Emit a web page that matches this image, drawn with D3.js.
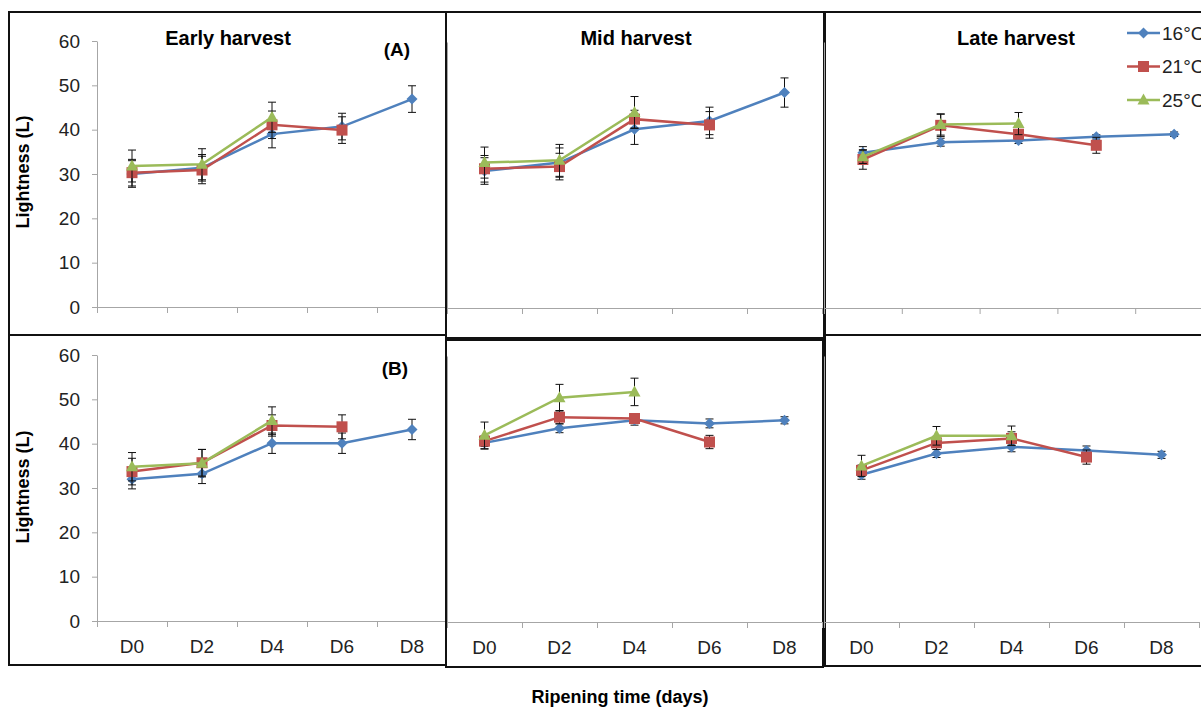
<!DOCTYPE html>
<html>
<head>
<meta charset="utf-8">
<script src="https://cdn.jsdelivr.net/npm/d3@7"></script>
<style>
  body { margin: 0; background: #fff; }
  svg { display: block; font-family: "Liberation Sans", Arial, sans-serif; }
</style>
</head>
<body>
<div id="chart"></div>
<script>
// ripening days on the x axis, storage temperatures as series
const days = ["D0", "D2", "D4", "D6", "D8"];
const temps = ["16°C", "21°C", "25°C"];
const yTicks = [0, 10, 20, 30, 40, 50, 60];

// (A) row
const earlyA_16 = [30.0, 31.4, 39.0, 40.7, 46.9];
const earlyA_21 = [30.3, 30.9, 41.1, 39.9, null];
const earlyA_25 = [31.8, 32.2, 42.8, null, null];
const earlyA_16err = [3.0, 3.0, 3.1, 3.0, 3.0];
const earlyA_21err = [3.0, 3.1, 3.1, 3.0, null];
const earlyA_25err = [3.6, 3.5, 3.4, null, null];

const midA_16 = [30.9, 32.8, 40.3, 42.2, 48.6];
const midA_21 = [31.4, 31.9, 42.6, 41.3, null];
const midA_25 = [32.8, 33.3, 44.1, null, null];
const midA_16err = [3.0, 3.3, 3.4, 3.1, 3.3];
const midA_21err = [3.0, 3.0, 2.0, 3.0, null];
const midA_25err = [3.5, 3.6, 3.6, null, null];

const lateA_16 = [35.0, 37.4, 37.8, 38.6, 39.2];
const lateA_21 = [33.5, 41.2, 39.2, 36.7, null];
const lateA_25 = [34.1, 41.4, 41.6, null, null];
const lateA_16err = [1.4, 0.9, 0.7, 0.5, 0.5];
const lateA_21err = [2.2, 2.5, 1.0, 1.8, null];
const lateA_25err = [1.5, 2.4, 2.5, null, null];

// (B) row
const earlyB_16 = [32.0, 33.2, 40.1, 40.1, 43.2];
const earlyB_21 = [33.7, 35.7, 44.1, 43.8, null];
const earlyB_25 = [34.8, 35.6, 45.2, null, null];
const earlyB_16err = [2.2, 2.2, 2.3, 2.3, 2.3];
const earlyB_21err = [3.0, 3.0, 2.4, 2.7, null];
const earlyB_25err = [3.2, 3.1, 3.1, null, null];

const midB_16 = [40.4, 43.7, 45.5, 44.8, 45.5];
const midB_21 = [40.8, 46.2, 45.9, 40.6, null];
const midB_25 = [42.1, 50.6, 51.9, null, null];
const midB_16err = [1.4, 1.0, 1.1, 1.0, 0.8];
const midB_21err = [1.2, 1.5, 1.0, 1.5, null];
const midB_25err = [3.0, 3.0, 3.1, null, null];

const lateB_16 = [33.2, 38.0, 39.5, 38.7, 37.7];
const lateB_21 = [34.2, 40.4, 41.4, 37.2, null];
const lateB_25 = [35.2, 42.0, 42.0, null, null];
const lateB_16err = [1.0, 0.9, 1.1, 1.0, 0.8];
const lateB_21err = [1.2, 1.5, 1.5, 1.6, null];
const lateB_25err = [2.4, 2.1, 2.2, null, null];

const colors = ["#4F81BD", "#C0504D", "#9BBB59"];
const axisGrey = "#A6A6A6";

const W = 1201, H = 709;
const svg = d3.select("#chart").append("svg")
  .attr("width", W).attr("height", H);
svg.append("rect").attr("width", W).attr("height", H).attr("fill", "#fff");

// marker shapes, like the excel ones
const markers = [
  "M0,-5.5L5.5,0L0,5.5L-5.5,0Z",
  "M-5.5,-5.5H5.5V5.5H-5.5Z",
  "M0,-6.5L6,4.5H-6Z"
];

const panels = [
  { box: [9, 12, 446, 335], x: [97, 447], y: [307, 41], title: "Early harvest", tx: 228, ty: 45,
    yLabels: true, xLabels: false, tag: "(A)", tagX: 397, tagY: 56,
    values: [earlyA_16, earlyA_21, earlyA_25], errs: [earlyA_16err, earlyA_21err, earlyA_25err] },
  { box: [446, 12, 824, 338], x: [447, 822], y: [308, 42], title: "Mid harvest", tx: 636, ty: 45,
    yLabels: false, xLabels: false,
    values: [midA_16, midA_21, midA_25], errs: [midA_16err, midA_21err, midA_25err] },
  { box: [825, 12, 1220, 335], x: [824, 1213], y: [308, 42], title: "Late harvest", tx: 1016, ty: 45,
    yLabels: false, xLabels: false,
    values: [lateA_16, lateA_21, lateA_25], errs: [lateA_16err, lateA_21err, lateA_25err] },
  { box: [9, 335, 446, 665], x: [97, 447], y: [621, 355],
    yLabels: true, xLabels: true, tag: "(B)", tagX: 395, tagY: 375,
    values: [earlyB_16, earlyB_21, earlyB_25], errs: [earlyB_16err, earlyB_21err, earlyB_25err] },
  { box: [446, 340, 823, 667], x: [447, 822], y: [622, 356],
    yLabels: false, xLabels: true,
    values: [midB_16, midB_21, midB_25], errs: [midB_16err, midB_21err, midB_25err] },
  { box: [825, 335, 1220, 666], x: [824, 1199], y: [622, 356],
    yLabels: false, xLabels: true,
    values: [lateB_16, lateB_21, lateB_25], errs: [lateB_16err, lateB_21err, lateB_25err] }
];

panels.forEach(p => {
  const g = svg.append("g");

  g.append("rect")
    .attr("x", p.box[0]).attr("y", p.box[1])
    .attr("width", p.box[2] - p.box[0]).attr("height", p.box[3] - p.box[1])
    .attr("fill", "none").attr("stroke", "#111").attr("stroke-width", 2);

  const x = d3.scaleBand().domain(days).range(p.x).padding(0);
  const edge = d3.scaleLinear().domain([0, days.length]).range(p.x);
  const y = d3.scaleLinear().domain([0, 60]).range(p.y);

  // y axis
  const yAxis = g.append("g")
    .attr("transform", `translate(${p.x[0]},0)`)
    .call(d3.axisLeft(y).tickValues(yTicks).tickSize(p.yLabels ? 5 : 0).tickSizeOuter(0).tickPadding(12));
  yAxis.select(".domain").attr("stroke", axisGrey);
  yAxis.selectAll(".tick line").attr("stroke", axisGrey);
  yAxis.selectAll(".tick text")
    .attr("font-size", 19).attr("fill", "#222")
    .style("display", p.yLabels ? null : "none");

  // x axis: ticks between categories
  const xEdges = g.append("g")
    .attr("transform", `translate(0,${p.y[0]})`)
    .call(d3.axisBottom(edge).tickValues(d3.range(days.length + 1)).tickFormat("").tickSize(6).tickSizeOuter(0));
  xEdges.select(".domain").attr("stroke", axisGrey);
  xEdges.selectAll(".tick line").attr("stroke", axisGrey);

  if (p.xLabels) {
    const xAxis = g.append("g")
      .attr("transform", `translate(0,${p.y[0]})`)
      .call(d3.axisBottom(x).tickSize(0).tickPadding(19));
    xAxis.select(".domain").remove();
    xAxis.selectAll(".tick text").attr("font-size", 19).attr("fill", "#222");
  }

  if (p.title) {
    g.append("text").attr("x", p.tx).attr("y", p.ty)
      .attr("text-anchor", "middle").attr("font-size", 20).attr("font-weight", "bold")
      .text(p.title);
  }
  if (p.tag) {
    g.append("text").attr("x", p.tagX).attr("y", p.tagY)
      .attr("text-anchor", "middle").attr("font-size", 19).attr("font-weight", "bold")
      .text(p.tag);
  }

  const cx = d => x(d) + x.bandwidth() / 2;

  p.values.forEach((vals, s) => {
    const pts = days.map((d, i) => ({ d: d, v: vals[i], e: p.errs[s][i] }))
      .filter(o => o.v != null);

    // error bars
    const eb = g.append("g").attr("stroke", "#111").attr("stroke-width", 1);
    pts.forEach(o => {
      const x0 = cx(o.d), top = y(o.v + o.e), bot = y(o.v - o.e);
      eb.append("line").attr("x1", x0).attr("x2", x0).attr("y1", top).attr("y2", bot);
      eb.append("line").attr("x1", x0 - 4).attr("x2", x0 + 4).attr("y1", top).attr("y2", top);
      eb.append("line").attr("x1", x0 - 4).attr("x2", x0 + 4).attr("y1", bot).attr("y2", bot);
    });

    const line = d3.line().x(o => cx(o.d)).y(o => y(o.v));
    g.append("path").datum(pts)
      .attr("d", line)
      .attr("fill", "none").attr("stroke", colors[s]).attr("stroke-width", 2.5);

    g.selectAll(null).data(pts).enter().append("path")
      .attr("d", markers[s])
      .attr("transform", o => `translate(${cx(o.d)},${y(o.v)})`)
      .attr("fill", colors[s]);
  });
});

// y axis titles
[172, 487].forEach(cy => {
  svg.append("text")
    .attr("transform", `translate(23,${cy}) rotate(-90)`)
    .attr("text-anchor", "middle").attr("dominant-baseline", "central")
    .attr("font-size", 18).attr("font-weight", "bold")
    .text("Lightness (L)");
});

svg.append("text")
  .attr("x", 620).attr("y", 703)
  .attr("text-anchor", "middle").attr("font-size", 18).attr("font-weight", "bold")
  .text("Ripening time (days)");

// legend
const legend = svg.append("g");
temps.forEach((t, i) => {
  const ly = 33 + i * 33.5;
  legend.append("line")
    .attr("x1", 1127).attr("x2", 1160).attr("y1", ly).attr("y2", ly)
    .attr("stroke", colors[i]).attr("stroke-width", 2.5);
  legend.append("path")
    .attr("d", markers[i])
    .attr("transform", `translate(1143.5,${ly})`)
    .attr("fill", colors[i]);
  legend.append("text")
    .attr("x", 1162).attr("y", ly).attr("dy", "0.35em")
    .attr("font-size", 19).attr("fill", "#222")
    .text(t);
});
</script>
</body>
</html>
